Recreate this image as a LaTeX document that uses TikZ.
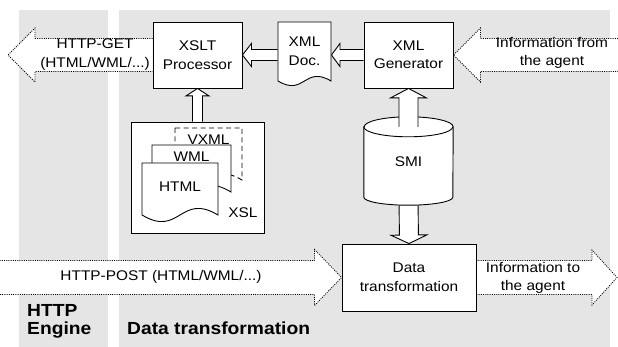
\documentclass[tikz,border=0pt]{standalone}
\usepackage{fontspec}
\setmainfont{Liberation Sans}[FakeStretch=1.1]
\usepackage{tikz}
\usetikzlibrary{calc}
\definecolor{panelgray}{RGB}{229,229,229}
\pgfdeclarelayer{back}
\pgfdeclarelayer{mid}
\pgfsetlayers{back,mid,main}
\tikzset{
  box/.style={draw,fill=white,line width=0.9pt,align=center,inner sep=0pt,
    minimum width=89pt,minimum height=66pt},
  docline/.style={draw,fill=white,line width=0.9pt},
  doctext/.style={inner sep=0pt},
  solidarrow/.style={line width=0.9pt},
  dotarrow/.style={line width=0.8pt,dash pattern=on 1pt off 1.2pt},
  arrowtext/.style={align=center,inner sep=0pt},
  heading/.style={font=\bfseries\fontsize{17.5}{18}\selectfont,align=left,inner sep=0pt}
}
% fat arrow: style, tail, tip, half shaft, half head, head length
\newcommand{\bigarrow}[6]{%
  \coordinate (hb) at ($#3!#6!#2$);
  \fill[white] ($#2!#4!-90:#3$) -- ($(hb)!#4!90:#2$) -- ($(hb)!#5!90:#2$) -- #3
    -- ($(hb)!#5!-90:#2$) -- ($(hb)!#4!-90:#2$) -- ($#2!#4!90:#3$) -- cycle;
  \draw[#1] ($#2!#4!-90:#3$) -- ($(hb)!#4!90:#2$) -- ($(hb)!#5!90:#2$) -- #3
    -- ($(hb)!#5!-90:#2$) -- ($(hb)!#4!-90:#2$) -- ($#2!#4!90:#3$);
}
% sheet with a wavy lower edge: [line opts] name, NW, SE, node opts, text
\newcommand{\docshape}[6][]{%
  \draw[docline,#1] let \p1=#3, \p2=#4, \n1={0.3*(\x2-\x1)} in
    (\p1) -- (\x2,\y1) -- (\p2)
    .. controls ($(\x1,\y2)!.5!(\p2)+(0,\n1)$) and ($(\x1,\y2)!.5!(\p2)+(0,-\n1)$) .. (\x1,\y2) -- cycle
    ($(\p1)!.5!(\p2)$) node[doctext,minimum width=\x2-\x1,minimum height=\y1-(\y2),#5] (#2) {#6};
}

\begin{document}
\begin{tikzpicture}[x=1pt,y=1pt,font=\fontsize{14}{18.5}\selectfont]
  \useasboundingbox (0,0) rectangle (618,-347);
  \begin{pgfonlayer}{back}
    \fill[panelgray] (19,-10) rectangle (108,-347);
    \fill[panelgray] (119,-10) rectangle (610,-347);
  \end{pgfonlayer}

  % processing blocks
  \node[box] (xslt) at (197.5,-55) {XSLT\\Processor};
  \node[box] (gen) at (408.5,-55) {XML\\Generator};
  \node[box,minimum width=134pt,minimum height=67pt] (trans) at (409,-277.5) {Data\\transformation};
  \node[doctext,minimum width=89pt,minimum height=70pt] (smi) at (408.5,-162) {SMI};
  \docshape{doc}{(278,-22)}{(331,-81)}{align=center}{XML\\Doc.}

  % style sheets
  \node[box,minimum width=133pt,minimum height=111pt] (xsl) at (197.5,-177.5) {};
  \docshape[dash pattern=on 5pt off 3.5pt]{vxml}{(175,-128)}{(242,-180)}{text height=17pt,text depth=35pt}{VXML}
  \docshape{wml}{(152,-145)}{(231,-192)}{text height=17pt,text depth=30pt}{WML}
  \docshape{html}{(142,-163)}{(218,-215)}{text height=29pt,text depth=23pt}{HTML}
  \node (xsltag) at (243,-213) {XSL};

  \coordinate (gettip) at (8,-55);
  \coordinate (fromtail) at (618,-55);
  \coordinate (posttail) at (0,-277.5);
  \coordinate (totip) at (617,-277.5);
  \coordinate (docin) at (doc.east |- gen.west);
  \coordinate (docout) at (doc.west |- xslt.east);

  \begin{pgfonlayer}{mid}
    \bigarrow{dotarrow}{(xslt.west)}{(gettip)}{16.5pt}{27pt}{27pt}
    \bigarrow{dotarrow}{(fromtail)}{(gen.east)}{16.5pt}{27pt}{27pt}
    \bigarrow{dotarrow}{(posttail)}{(trans.west)}{17pt}{28pt}{27pt}
    \bigarrow{dotarrow}{(trans.east)}{(totip)}{17pt}{27.5pt}{25pt}
    \bigarrow{solidarrow}{(gen.west)}{(docin)}{5.5pt}{11.5pt}{8.5pt}
    \bigarrow{solidarrow}{(docout)}{(xslt.east)}{5.5pt}{11.5pt}{9pt}
    \bigarrow{solidarrow}{(xsl.north)}{(xslt.south)}{5pt}{11.5pt}{7.5pt}
    \bigarrow{solidarrow}{(smi.south)}{(trans.north)}{9.5pt}{18pt}{8.5pt}
    \draw[docline] (smi.north west) -- (smi.south west)
      arc[start angle=180,end angle=360,x radius=44.5pt,y radius=8pt]
      -- (smi.north east) arc[start angle=0,end angle=180,x radius=44.5pt,y radius=10pt] -- cycle;
    \draw[solidarrow] (smi.north west) arc[start angle=180,end angle=360,x radius=44.5pt,y radius=10pt];
  \end{pgfonlayer}
  \bigarrow{solidarrow}{(smi.north)}{(gen.south)}{9.5pt}{18pt}{9.5pt}

  % texts on the wide arrows
  \node[arrowtext] (getlbl) at (95,-54.5) {HTTP-GET\\(HTML/WML/...)};
  \node[arrowtext] (fromlbl) at (552,-53) {Information from\\the agent};
  \node[arrowtext] (postlbl) at (161,-277) {HTTP-POST (HTML/WML/...)};
  \node[arrowtext] (tolbl) at (533,-278) {Information to\\the agent};

  % area titles
  \node[heading,anchor=north west] (enginehd) at (27,-304.5) {HTTP\\Engine};
  \node[heading,anchor=base west] (transhd) at (127,-334) {Data transformation};
\end{tikzpicture}
\end{document}
